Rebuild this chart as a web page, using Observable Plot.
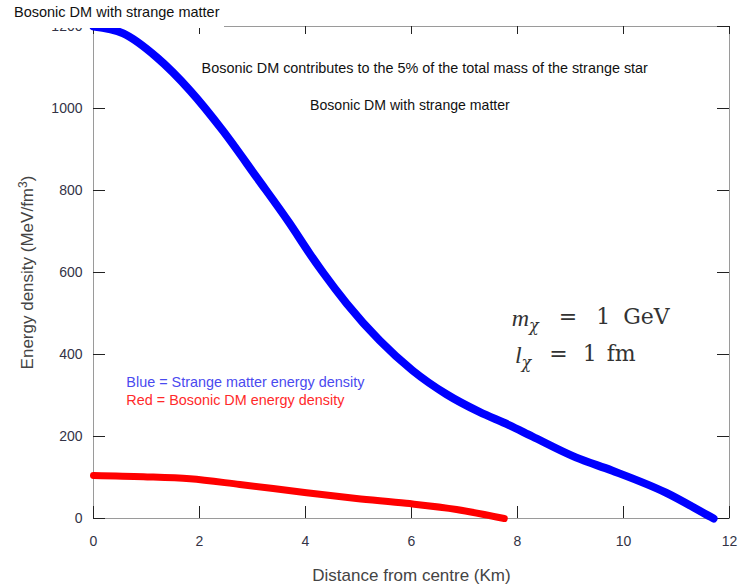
<!DOCTYPE html>
<html>
<head>
<meta charset="utf-8">
<script src="https://cdn.jsdelivr.net/npm/d3@7"></script>
<script src="https://cdn.jsdelivr.net/npm/@observablehq/plot@0.6"></script>
<style>
  body { margin: 0; background: #fff; }
  #wrap { position: relative; width: 739px; height: 587px; }
  #title { position: absolute; left: 0; top: 0; width: 224px; height: 28px; background: #fff;
           font-family: "Liberation Sans", Arial, sans-serif; font-size: 14.5px; color: #111;
           padding-left: 14px; box-sizing: border-box; line-height: 24px; }
</style>
</head>
<body>
<div id="wrap"><div id="title">Bosonic DM with strange matter</div></div>
<script>
// Strange matter energy density (blue)
const blueR = [0, 0.56, 1.2, 1.82, 2.44, 3.08, 3.7, 4.08, 4.33, 4.78, 5.4, 6.02, 6.66, 7.28, 7.84, 8.28, 9.1, 9.78, 10.8, 11.6, 11.7];
const blueE = [1200, 1183, 1124, 1044, 946, 832, 720, 646, 600, 524, 434, 361, 303, 260, 228, 200, 149, 117, 63, 7, 0];
// Bosonic DM energy density (red)
const redR = [0, 0.94, 1.82, 2.76, 4.02, 4.96, 5.9, 6.85, 7.75];
const redE = [105, 102, 97, 83, 63, 49, 37, 22, 0];

const xTicks = [0, 2, 4, 6, 8, 10, 12];
const yTicks = [0, 200, 400, 600, 800, 1000, 1200];

const xLabel = "Distance from centre (Km)";
const yLabel = "Energy density (MeV/fm3)";
const note1 = "Bosonic DM contributes to the 5% of the total mass of the strange star";
const note2 = "Bosonic DM with strange matter";
const legendBlue = "Blue = Strange matter energy density";
const legendRed = "Red = Bosonic DM energy density";

const blue = blueR.map((r, i) => ({r, e: blueE[i]}));
const red = redR.map((r, i) => ({r, e: redE[i]}));

const font = "'Liberation Sans', Arial, sans-serif";
const W = 739, H = 587, mL = 93, mR = 10, mT = 26, mB = 69;
const pw = W - mL - mR, ph = H - mT - mB;

const plot = Plot.plot({
  width: W,
  height: H,
  marginLeft: mL,
  marginRight: mR,
  marginTop: mT,
  marginBottom: mB,
  style: {fontFamily: font, fontSize: "14px", background: "#fff"},
  x: {domain: [0, 12]},
  y: {domain: [0, 1200]},
  marks: [
    Plot.frame({stroke: "#9a9a9a"}),
    // inward ticks on all four sides
    Plot.tickX(xTicks, {x: d => d, insetTop: ph - 12, stroke: "#222"}),
    Plot.tickX(xTicks, {x: d => d, insetBottom: ph - 8, stroke: "#222"}),
    Plot.tickY(yTicks, {y: d => d, insetRight: pw - 12, stroke: "#222"}),
    Plot.tickY(yTicks, {y: d => d, insetLeft: pw - 12, stroke: "#222"}),
    // labels
    Plot.axisX(xTicks, {anchor: "bottom", tickSize: 0, tickPadding: 18, fill: "#333346", fontSize: 14,
      tickFormat: d => String(d),
      label: xLabel, labelAnchor: "center", labelArrow: "none", labelOffset: 62}),
    Plot.axisY(yTicks, {anchor: "left", tickSize: 0, tickPadding: 11, fill: "#333346", fontSize: 14,
      tickFormat: d => String(d),
      label: yLabel, labelAnchor: "center", labelArrow: "none", labelOffset: 73}),
    Plot.line(red, {x: "r", y: "e", stroke: "#ff0000", strokeWidth: 7, curve: "monotone-x"}),
    Plot.line(blue, {x: "r", y: "e", stroke: "#0000ff", strokeWidth: 8, curve: "monotone-x"}),
    Plot.text([note1], {x: 6.25, y: 1097, text: d => d, fontSize: 14.4, fill: "#111"}),
    Plot.text([note2], {x: 5.97, y: 1007, text: d => d, fontSize: 14.1, fill: "#111"}),
    Plot.text([legendBlue], {x: 0.62, y: 333, text: d => d, textAnchor: "start", fontSize: 14.4, fill: "#4a4aef"}),
    Plot.text([legendRed], {x: 0.62, y: 289, text: d => d, textAnchor: "start", fontSize: 14.4, fill: "#ff2a2a"})
  ]
});

// Superscript in y label, label sizes
d3.select(plot).selectAll("g[aria-label='y-axis label'] text, g[aria-label='x-axis label'] text")
  .attr("font-size", 17).attr("fill", "#444");
d3.select(plot).selectAll("g[aria-label='y-axis label'] text").each(function() {
  const t = d3.select(this);
  if (t.text() === yLabel) {
    t.text("");
    t.append("tspan").text("Energy density (MeV/fm");
    t.append("tspan").attr("dy", "-0.5em").attr("font-size", 12).text("3");
    t.append("tspan").attr("dy", "0.4em").text(")");
  }
});

// Math annotations
const sx = plot.scale("x"), sy = plot.scale("y");
const svg = d3.select(plot);
const mathG = svg.append("g")
  .attr("font-family", "'DejaVu Serif', 'Liberation Serif', serif")
  .attr("fill", "#333").attr("font-size", 22).attr("text-anchor", "start");
const mathLines = [
  {sym: "m", parts: [["=", 20], ["1", 19], ["GeV", 13]], x: 7.9, y: 487},
  {sym: "l", parts: [["=", 18], ["1", 15], ["fm", 10]], x: 7.96, y: 397}
];
for (const m of mathLines) {
  const t = mathG.append("text").attr("x", sx.apply(m.x)).attr("y", sy.apply(m.y)).attr("dy", "0.35em");
  t.append("tspan").attr("font-style", "italic").attr("font-family", "'Liberation Serif', serif").attr("font-size", 24).text(m.sym);
  t.append("tspan").attr("font-style", "italic").attr("font-size", 16).attr("dy", "0.3em").text("χ");
  let first = true;
  for (const [s, gap] of m.parts) {
    const ts = t.append("tspan").attr("dx", gap).text(s);
    if (first) { ts.attr("dy", "-0.3em"); first = false; }
  }
}

document.getElementById("wrap").prepend(plot);
</script>
</body>
</html>
